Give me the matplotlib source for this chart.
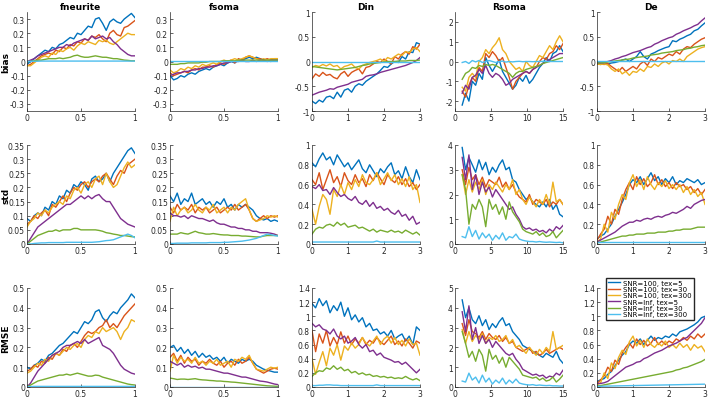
import numpy as np
import matplotlib.pyplot as plt

# sample grids for each parameter
x_f = np.linspace(0, 1, 31)
x_d = np.linspace(0, 3, 31)
x_r = np.linspace(1, 15, 31)

labels = ["SNR=100, tex=5", "SNR=100, tex=30", "SNR=100, tex=300",
          "SNR=Inf, tex=5", "SNR=Inf, tex=30", "SNR=Inf, tex=300"]
colors = ["#0072BD", "#D95319", "#EDB120", "#7E2F8E", "#77AC30", "#4DBEEE"]

params = ["fneurite", "fsoma", "Din", "Rsoma", "De"]
metrics = ["bias", "std", "RMSE"]

# ---- bias ----
bias_fneurite = [
    [-0.02, 0.0, 0.02, 0.04, 0.06, 0.08, 0.07, 0.10, 0.09, 0.12, 0.13, 0.15, 0.17, 0.16, 0.20, 0.19, 0.22, 0.25, 0.24, 0.30, 0.31, 0.27, 0.22, 0.28, 0.30, 0.28, 0.27, 0.30, 0.32, 0.34, 0.31],
    [-0.03, -0.02, 0.0, 0.02, 0.04, 0.05, 0.06, 0.05, 0.08, 0.07, 0.10, 0.09, 0.12, 0.11, 0.14, 0.13, 0.16, 0.15, 0.18, 0.17, 0.19, 0.16, 0.14, 0.20, 0.22, 0.19, 0.18, 0.24, 0.25, 0.27, 0.29],
    [-0.03, -0.03, -0.01, 0.01, 0.03, 0.04, 0.03, 0.06, 0.05, 0.08, 0.07, 0.09, 0.10, 0.08, 0.11, 0.13, 0.12, 0.14, 0.13, 0.12, 0.15, 0.14, 0.15, 0.13, 0.12, 0.14, 0.16, 0.18, 0.20, 0.19, 0.19],
    [0.0, 0.01, 0.02, 0.04, 0.05, 0.06, 0.07, 0.08, 0.09, 0.10, 0.10, 0.12, 0.11, 0.13, 0.14, 0.15, 0.16, 0.15, 0.18, 0.16, 0.17, 0.18, 0.16, 0.17, 0.14, 0.12, 0.09, 0.07, 0.05, 0.04, 0.04],
    [0.0, 0.0, 0.005, 0.01, 0.01, 0.015, 0.02, 0.02, 0.02, 0.025, 0.02, 0.025, 0.03, 0.04, 0.045, 0.035, 0.03, 0.03, 0.035, 0.04, 0.035, 0.03, 0.03, 0.025, 0.02, 0.02, 0.015, 0.01, 0.008, 0.005, 0.005],
    [0.0, 0.001, 0.002, 0.002, 0.003, 0.003, 0.003, 0.003, 0.003, 0.003, 0.003, 0.003, 0.003, 0.003, 0.003, 0.003, 0.003, 0.003, 0.003, 0.003, 0.003, 0.003, 0.003, 0.003, 0.003, 0.003, 0.003, 0.003, 0.003, 0.003, 0.003],
]
bias_fsoma = [
    [-0.10, -0.13, -0.12, -0.10, -0.11, -0.09, -0.08, -0.09, -0.07, -0.06, -0.05, -0.06, -0.04, -0.03, -0.02, -0.03, -0.01, 0.0, -0.01, 0.01, 0.01, 0.02, 0.03, 0.02, 0.03, 0.02, 0.01, 0.01, 0.0, 0.01, 0.01],
    [-0.08, -0.10, -0.09, -0.08, -0.07, -0.08, -0.06, -0.05, -0.06, -0.04, -0.04, -0.03, -0.04, -0.02, -0.01, -0.02, 0.0, 0.01, -0.01, 0.02, 0.01, 0.03, 0.04, 0.03, 0.02, 0.02, 0.01, 0.02, 0.01, 0.02, 0.02],
    [-0.06, -0.08, -0.07, -0.05, -0.06, -0.04, -0.05, -0.03, -0.04, -0.02, -0.03, -0.02, -0.01, -0.02, 0.0, 0.01, 0.0, 0.01, 0.02, 0.01, 0.02, 0.03, 0.04, 0.03, 0.02, 0.01, 0.02, 0.01, 0.02, 0.02, 0.02],
    [-0.10, -0.09, -0.08, -0.08, -0.07, -0.07, -0.06, -0.06, -0.05, -0.05, -0.04, -0.04, -0.03, -0.03, -0.02, -0.01, -0.01, 0.0, 0.0, 0.0, 0.01, 0.0, 0.0, 0.01, 0.0, 0.01, 0.01, 0.0, 0.01, 0.01, 0.01],
    [-0.02, -0.02, -0.02, -0.015, -0.015, -0.01, -0.01, -0.01, -0.01, -0.005, -0.005, 0.0, 0.0, 0.0, 0.0, 0.005, 0.005, 0.005, 0.005, 0.01, 0.01, 0.01, 0.01, 0.01, 0.01, 0.01, 0.01, 0.01, 0.01, 0.01, 0.01],
    [0.002, 0.002, 0.002, 0.002, 0.002, 0.002, 0.002, 0.002, 0.002, 0.002, 0.002, 0.002, 0.002, 0.002, 0.002, 0.002, 0.002, 0.002, 0.002, 0.002, 0.002, 0.002, 0.002, 0.002, 0.002, 0.002, 0.002, 0.002, 0.002, 0.002, 0.002],
]
bias_din = [
    [-0.80, -0.85, -0.78, -0.82, -0.72, -0.70, -0.75, -0.62, -0.72, -0.58, -0.55, -0.62, -0.50, -0.45, -0.48, -0.40, -0.35, -0.30, -0.25, -0.18, -0.10, -0.12, -0.05, 0.0, -0.02, 0.10, 0.05, 0.20, 0.18, 0.38, 0.35],
    [-0.35, -0.25, -0.30, -0.22, -0.28, -0.26, -0.32, -0.35, -0.25, -0.20, -0.30, -0.22, -0.18, -0.15, -0.25, -0.12, -0.10, -0.05, 0.0, -0.02, 0.05, 0.0, -0.05, 0.10, 0.05, 0.15, 0.20, 0.15, 0.30, 0.25, 0.35],
    [-0.12, -0.08, -0.10, -0.06, -0.09, -0.05, -0.10, -0.08, -0.15, -0.10, -0.08, -0.05, -0.12, -0.15, -0.08, -0.05, -0.02, 0.0, 0.02, 0.05, 0.0, 0.08, 0.05, 0.10, 0.15, 0.12, 0.20, 0.18, 0.25, 0.28, 0.20],
    [-0.68, -0.65, -0.62, -0.60, -0.58, -0.55, -0.56, -0.52, -0.50, -0.48, -0.46, -0.42, -0.40, -0.38, -0.36, -0.30, -0.28, -0.27, -0.25, -0.22, -0.20, -0.18, -0.16, -0.14, -0.12, -0.10, -0.08, -0.05, -0.02, 0.02, 0.08],
    [-0.10, -0.11, -0.12, -0.13, -0.14, -0.15, -0.16, -0.17, -0.16, -0.15, -0.14, -0.13, -0.12, -0.10, -0.08, -0.07, -0.05, -0.04, -0.03, -0.02, -0.01, 0.0, 0.0, 0.0, 0.01, 0.01, 0.01, 0.02, 0.02, 0.02, 0.03],
    [0.0, 0.0, 0.0, 0.0, 0.0, 0.0, 0.0, 0.0, 0.0, 0.0, 0.0, 0.0, 0.0, 0.0, 0.0, 0.0, 0.0, 0.0, 0.0, 0.0, 0.0, 0.0, 0.0, 0.0, 0.0, 0.0, 0.0, 0.0, 0.0, 0.0, 0.0],
]
bias_rsoma = [
    [-2.2, -1.6, -2.0, -1.0, -1.2, -0.6, -0.9, 0.2, -0.2, -0.5, -0.2, 0.1, -0.5, -0.8, -1.1, -1.4, -1.2, -0.8, -1.0, -0.7, -1.1, -0.9, -0.6, -0.3, -0.1, 0.2, 0.0, 0.4, 0.5, 0.8, 0.5],
    [-1.5, -1.8, -1.2, -0.8, -1.0, -0.3, -0.5, 0.4, 0.2, 0.5, 0.3, 0.0, 0.2, -0.3, -0.8, -1.4, -1.0, -0.8, -0.6, -0.5, -0.6, -0.4, -0.3, 0.0, 0.2, 0.1, 0.4, 0.5, 0.8, 0.6, 0.9],
    [-1.3, -1.5, -0.8, -0.6, -0.8, 0.0, 0.2, 0.6, 0.4, 0.7, 0.9, 1.2, 0.6, 0.4, 0.0, -0.2, -0.4, -0.3, -0.5, 0.0, -0.2, -0.3, 0.0, 0.3, 0.2, 0.5, 0.8, 0.6, 1.0, 1.3, 1.0],
    [-1.6, -1.2, -1.4, -0.8, -0.7, -0.4, -0.6, -0.2, -0.6, -0.8, -0.6, -0.7, -0.9, -1.2, -1.1, -0.9, -0.8, -0.7, -0.6, -0.5, -0.6, -0.4, -0.3, -0.2, -0.1, 0.0, 0.1, 0.2, 0.3, 0.4, 0.4],
    [-0.9, -0.6, -0.5, -0.3, -0.35, -0.2, -0.25, -0.15, -0.2, -0.15, -0.2, -0.3, -0.4, -0.5, -0.6, -0.8, -0.6, -0.5, -0.5, -0.4, -0.35, -0.3, -0.25, -0.2, -0.1, -0.05, 0.0, 0.05, 0.1, 0.15, 0.2],
    [-0.05, 0.0, -0.1, 0.05, -0.02, 0.05, -0.05, 0.0, 0.05, 0.0, -0.05, 0.0, 0.02, -0.03, 0.0, -0.02, 0.0, 0.01, -0.01, 0.0, 0.0, -0.01, 0.0, 0.0, 0.01, 0.0, 0.0, 0.0, 0.0, 0.0, 0.0],
]
bias_de = [
    [-0.05, -0.06, -0.04, -0.05, -0.03, -0.02, 0.0, 0.03, 0.05, 0.0, 0.05, 0.10, 0.20, 0.10, 0.05, 0.15, 0.18, 0.22, 0.25, 0.28, 0.30, 0.42, 0.40, 0.45, 0.48, 0.52, 0.55, 0.62, 0.65, 0.72, 0.78],
    [-0.05, -0.05, -0.06, -0.04, -0.10, -0.15, -0.20, -0.12, -0.20, -0.15, -0.10, -0.15, -0.05, 0.0, -0.08, 0.05, 0.0, 0.08, 0.05, 0.10, 0.15, 0.12, 0.20, 0.15, 0.25, 0.30, 0.28, 0.35, 0.40, 0.45, 0.48],
    [-0.05, -0.06, -0.05, -0.07, -0.15, -0.20, -0.15, -0.25, -0.20, -0.28, -0.20, -0.22, -0.15, -0.20, -0.10, -0.12, -0.05, -0.10, -0.03, 0.0, -0.05, 0.02, 0.0, 0.05, 0.0, 0.10, 0.15, 0.20, 0.25, 0.28, 0.30],
    [-0.03, -0.03, -0.02, 0.0, 0.02, 0.05, 0.07, 0.10, 0.12, 0.15, 0.18, 0.20, 0.22, 0.25, 0.28, 0.30, 0.35, 0.38, 0.42, 0.45, 0.48, 0.50, 0.55, 0.58, 0.62, 0.65, 0.68, 0.72, 0.75, 0.82, 0.88],
    [-0.03, -0.03, -0.02, -0.01, 0.0, 0.01, 0.02, 0.03, 0.04, 0.05, 0.07, 0.08, 0.09, 0.10, 0.11, 0.13, 0.14, 0.15, 0.17, 0.18, 0.19, 0.20, 0.22, 0.23, 0.24, 0.26, 0.27, 0.29, 0.30, 0.32, 0.33],
    [0.02, 0.02, 0.02, 0.02, 0.02, 0.02, 0.02, 0.02, 0.02, 0.02, 0.02, 0.02, 0.02, 0.02, 0.02, 0.02, 0.02, 0.02, 0.02, 0.02, 0.02, 0.02, 0.02, 0.02, 0.02, 0.02, 0.02, 0.02, 0.02, 0.02, 0.02],
]

# ---- std ----
std_fneurite = [
    [0.09, 0.08, 0.10, 0.11, 0.10, 0.13, 0.12, 0.15, 0.14, 0.17, 0.16, 0.19, 0.18, 0.21, 0.20, 0.22, 0.21, 0.19, 0.23, 0.24, 0.22, 0.23, 0.25, 0.22, 0.25, 0.27, 0.29, 0.31, 0.33, 0.34, 0.32],
    [0.07, 0.08, 0.10, 0.09, 0.11, 0.12, 0.10, 0.14, 0.13, 0.15, 0.17, 0.15, 0.18, 0.20, 0.19, 0.21, 0.22, 0.20, 0.22, 0.23, 0.22, 0.24, 0.25, 0.23, 0.21, 0.24, 0.26, 0.25, 0.28, 0.29, 0.30],
    [0.06, 0.08, 0.09, 0.11, 0.10, 0.12, 0.11, 0.13, 0.14, 0.15, 0.14, 0.17, 0.16, 0.19, 0.20, 0.18, 0.21, 0.22, 0.20, 0.23, 0.24, 0.21, 0.25, 0.22, 0.20, 0.21, 0.24, 0.27, 0.29, 0.27, 0.28],
    [0.0, 0.02, 0.04, 0.06, 0.07, 0.08, 0.09, 0.10, 0.11, 0.12, 0.13, 0.14, 0.14, 0.15, 0.16, 0.17, 0.16, 0.17, 0.16, 0.17, 0.175, 0.16, 0.15, 0.15, 0.13, 0.11, 0.09, 0.08, 0.07, 0.065, 0.06],
    [0.0, 0.01, 0.02, 0.03, 0.035, 0.04, 0.045, 0.045, 0.05, 0.045, 0.05, 0.05, 0.05, 0.055, 0.055, 0.05, 0.05, 0.05, 0.05, 0.05, 0.048, 0.045, 0.04, 0.038, 0.035, 0.033, 0.03, 0.03, 0.028, 0.026, 0.025],
    [0.0, 0.0, 0.002, 0.003, 0.004, 0.004, 0.005, 0.005, 0.005, 0.005, 0.005, 0.006, 0.006, 0.006, 0.006, 0.006, 0.006, 0.006, 0.006, 0.007, 0.008, 0.010, 0.012, 0.013, 0.015, 0.020, 0.025, 0.030, 0.035, 0.030, 0.022],
]
std_fsoma = [
    [0.17, 0.15, 0.18, 0.14, 0.16, 0.15, 0.18, 0.14, 0.15, 0.16, 0.14, 0.15, 0.13, 0.15, 0.14, 0.16, 0.13, 0.14, 0.12, 0.14, 0.13, 0.14, 0.13, 0.12, 0.10, 0.09, 0.085, 0.09, 0.08, 0.085, 0.08],
    [0.13, 0.11, 0.14, 0.12, 0.13, 0.12, 0.14, 0.11, 0.13, 0.12, 0.13, 0.11, 0.12, 0.13, 0.11, 0.12, 0.13, 0.12, 0.14, 0.12, 0.13, 0.14, 0.12, 0.09, 0.08, 0.09, 0.10, 0.09, 0.10, 0.095, 0.10],
    [0.08, 0.13, 0.10, 0.12, 0.13, 0.11, 0.12, 0.14, 0.12, 0.11, 0.13, 0.12, 0.14, 0.11, 0.12, 0.13, 0.11, 0.13, 0.12, 0.14, 0.15, 0.16, 0.12, 0.09, 0.08, 0.085, 0.09, 0.10, 0.095, 0.10, 0.095],
    [0.11, 0.10, 0.10, 0.095, 0.10, 0.09, 0.10, 0.095, 0.09, 0.09, 0.085, 0.08, 0.085, 0.075, 0.07, 0.07, 0.065, 0.06, 0.06, 0.055, 0.055, 0.05, 0.05, 0.045, 0.045, 0.04, 0.04, 0.04, 0.038, 0.035, 0.03],
    [0.035, 0.035, 0.035, 0.04, 0.037, 0.035, 0.04, 0.045, 0.04, 0.038, 0.035, 0.035, 0.037, 0.035, 0.033, 0.032, 0.032, 0.03, 0.03, 0.03, 0.028, 0.028, 0.027, 0.026, 0.025, 0.025, 0.028, 0.03, 0.03, 0.03, 0.03],
    [0.002, 0.002, 0.003, 0.003, 0.003, 0.003, 0.004, 0.004, 0.004, 0.004, 0.004, 0.005, 0.005, 0.005, 0.005, 0.006, 0.006, 0.007, 0.008, 0.009, 0.010, 0.012, 0.014, 0.017, 0.020, 0.025, 0.030, 0.035, 0.033, 0.030, 0.028],
]
std_din = [
    [0.82, 0.78, 0.86, 0.92, 0.85, 0.88, 0.80, 0.90, 0.84, 0.78, 0.82, 0.75, 0.80, 0.85, 0.76, 0.72, 0.80, 0.74, 0.68, 0.76, 0.72, 0.78, 0.82, 0.70, 0.74, 0.66, 0.78, 0.68, 0.62, 0.75, 0.65],
    [0.65, 0.60, 0.72, 0.55, 0.65, 0.75, 0.62, 0.68, 0.58, 0.72, 0.64, 0.60, 0.70, 0.62, 0.66, 0.58, 0.70, 0.64, 0.72, 0.66, 0.60, 0.70, 0.65, 0.62, 0.68, 0.60, 0.66, 0.58, 0.62, 0.55, 0.60],
    [0.35, 0.20, 0.38, 0.50, 0.45, 0.30, 0.55, 0.48, 0.60, 0.50, 0.62, 0.55, 0.65, 0.58, 0.70, 0.62, 0.60, 0.65, 0.72, 0.60, 0.66, 0.72, 0.64, 0.70, 0.60, 0.66, 0.58, 0.68, 0.55, 0.60, 0.42],
    [0.58, 0.56, 0.60, 0.54, 0.55, 0.50, 0.57, 0.52, 0.48, 0.50, 0.46, 0.44, 0.48, 0.42, 0.40, 0.44, 0.38, 0.42, 0.36, 0.38, 0.34, 0.36, 0.32, 0.30, 0.34, 0.28, 0.30, 0.24, 0.28, 0.20, 0.22],
    [0.10, 0.15, 0.17, 0.16, 0.19, 0.20, 0.18, 0.22, 0.19, 0.21, 0.17, 0.18, 0.19, 0.16, 0.17, 0.15, 0.13, 0.15, 0.12, 0.14, 0.13, 0.12, 0.14, 0.12, 0.13, 0.11, 0.14, 0.12, 0.10, 0.12, 0.09],
    [0.02, 0.02, 0.02, 0.02, 0.02, 0.02, 0.02, 0.02, 0.02, 0.02, 0.02, 0.02, 0.02, 0.02, 0.02, 0.02, 0.02, 0.02, 0.03, 0.02, 0.02, 0.02, 0.02, 0.02, 0.02, 0.02, 0.02, 0.02, 0.02, 0.02, 0.02],
]
std_rsoma = [
    [3.9, 3.0, 3.5, 3.2, 2.9, 3.4, 3.0, 3.3, 2.8, 3.1, 2.9, 3.2, 3.4, 3.0, 3.1, 2.6, 2.5, 2.2, 2.0, 1.8, 1.9, 1.7, 1.6, 1.5, 1.7, 1.5, 1.8, 1.4, 1.6, 1.2, 1.1],
    [3.0, 2.4, 3.1, 2.6, 2.8, 2.4, 2.7, 2.3, 2.6, 2.5, 2.4, 2.7, 2.3, 2.5, 2.2, 2.4, 2.1, 1.9, 1.8, 1.7, 2.0, 1.6, 1.8, 1.7, 1.6, 1.8, 1.5, 1.7, 1.6, 1.8, 1.6],
    [2.8, 2.0, 2.6, 2.1, 2.5, 2.2, 2.6, 2.0, 2.4, 2.2, 2.5, 2.3, 2.1, 2.4, 2.2, 2.6, 2.0, 2.2, 1.8, 1.6, 1.9, 1.7, 1.5, 1.8, 1.6, 2.0, 1.6, 2.5, 1.7, 1.8, 1.6],
    [3.5, 2.6, 3.6, 2.2, 2.8, 2.0, 2.5, 2.1, 2.3, 1.9, 2.2, 2.0, 1.8, 1.6, 1.4, 1.5, 1.2, 1.0, 0.7, 0.6, 0.65, 0.55, 0.6, 0.5, 0.55, 0.45, 0.6, 0.5, 0.7, 0.6, 0.75],
    [2.8, 2.2, 0.8, 1.6, 1.4, 1.8, 1.5, 0.7, 1.8, 1.4, 1.6, 1.2, 1.5, 1.0, 1.7, 1.3, 1.1, 0.9, 0.6, 0.5, 0.45, 0.4, 0.5, 0.35, 0.45, 0.3, 0.35, 0.5, 0.25, 0.4, 0.55],
    [0.3, 0.25, 0.7, 0.3, 0.55, 0.2, 0.45, 0.25, 0.4, 0.15, 0.35, 0.2, 0.45, 0.15, 0.3, 0.25, 0.4, 0.2, 0.15, 0.12, 0.1, 0.1, 0.08, 0.1, 0.08, 0.07, 0.08, 0.07, 0.06, 0.07, 0.05],
]
std_de = [
    [0.05, 0.08, 0.10, 0.15, 0.20, 0.28, 0.35, 0.42, 0.50, 0.60, 0.65, 0.62, 0.68, 0.60, 0.66, 0.72, 0.64, 0.68, 0.60, 0.66, 0.62, 0.68, 0.60, 0.64, 0.62, 0.66, 0.64, 0.62, 0.65, 0.60, 0.62],
    [0.04, 0.10, 0.15, 0.28, 0.20, 0.35, 0.30, 0.45, 0.55, 0.62, 0.55, 0.68, 0.60, 0.66, 0.58, 0.62, 0.70, 0.60, 0.65, 0.58, 0.62, 0.56, 0.62, 0.58, 0.60, 0.55, 0.58, 0.52, 0.56, 0.50, 0.55],
    [0.02, 0.05, 0.20, 0.12, 0.32, 0.25, 0.40, 0.50, 0.45, 0.62, 0.70, 0.58, 0.65, 0.55, 0.68, 0.60, 0.55, 0.62, 0.58, 0.64, 0.56, 0.60, 0.55, 0.60, 0.52, 0.58, 0.50, 0.55, 0.48, 0.52, 0.40],
    [0.02, 0.04, 0.06, 0.08, 0.10, 0.12, 0.15, 0.18, 0.20, 0.22, 0.22, 0.24, 0.23, 0.25, 0.26, 0.25, 0.27, 0.28, 0.27, 0.29, 0.30, 0.32, 0.31, 0.33, 0.35, 0.38, 0.36, 0.40, 0.42, 0.44, 0.45],
    [0.01, 0.02, 0.03, 0.04, 0.05, 0.06, 0.07, 0.08, 0.08, 0.09, 0.09, 0.10, 0.10, 0.10, 0.11, 0.11, 0.11, 0.12, 0.12, 0.12, 0.13, 0.13, 0.14, 0.14, 0.15, 0.15, 0.15, 0.16, 0.17, 0.17, 0.17],
    [0.02, 0.02, 0.02, 0.02, 0.02, 0.02, 0.02, 0.02, 0.02, 0.02, 0.02, 0.02, 0.02, 0.02, 0.02, 0.02, 0.02, 0.02, 0.02, 0.02, 0.02, 0.02, 0.02, 0.02, 0.02, 0.02, 0.02, 0.02, 0.02, 0.02, 0.02],
]

# ---- RMSE ----
rmse_fneurite = [
    [0.10, 0.09, 0.11, 0.12, 0.14, 0.13, 0.16, 0.17, 0.19, 0.21, 0.22, 0.24, 0.26, 0.28, 0.27, 0.30, 0.33, 0.32, 0.34, 0.38, 0.39, 0.35, 0.33, 0.36, 0.38, 0.37, 0.40, 0.42, 0.44, 0.47, 0.45],
    [0.08, 0.09, 0.11, 0.10, 0.13, 0.12, 0.15, 0.14, 0.17, 0.16, 0.19, 0.18, 0.21, 0.22, 0.20, 0.23, 0.26, 0.28, 0.27, 0.28, 0.30, 0.31, 0.34, 0.30, 0.32, 0.30, 0.33, 0.36, 0.38, 0.40, 0.42],
    [0.07, 0.08, 0.10, 0.12, 0.11, 0.14, 0.13, 0.16, 0.17, 0.16, 0.18, 0.20, 0.19, 0.21, 0.22, 0.20, 0.24, 0.26, 0.25, 0.28, 0.27, 0.30, 0.28, 0.29, 0.30, 0.28, 0.24, 0.28, 0.30, 0.34, 0.33],
    [0.0, 0.02, 0.05, 0.08, 0.10, 0.12, 0.14, 0.16, 0.17, 0.18, 0.20, 0.21, 0.21, 0.22, 0.23, 0.22, 0.24, 0.22, 0.23, 0.24, 0.25, 0.21, 0.20, 0.19, 0.17, 0.14, 0.11, 0.09, 0.08, 0.07, 0.065],
    [0.0, 0.01, 0.02, 0.03, 0.035, 0.04, 0.045, 0.05, 0.055, 0.06, 0.06, 0.065, 0.06, 0.065, 0.07, 0.065, 0.06, 0.055, 0.055, 0.06, 0.058, 0.05, 0.045, 0.04, 0.035, 0.03, 0.025, 0.02, 0.015, 0.012, 0.01],
    [0.002, 0.002, 0.003, 0.003, 0.003, 0.003, 0.003, 0.003, 0.003, 0.003, 0.003, 0.003, 0.003, 0.003, 0.003, 0.003, 0.003, 0.003, 0.003, 0.003, 0.003, 0.003, 0.003, 0.003, 0.003, 0.003, 0.003, 0.003, 0.003, 0.003, 0.003],
]
rmse_fsoma = [
    [0.20, 0.21, 0.18, 0.20, 0.17, 0.19, 0.16, 0.18, 0.15, 0.17, 0.15, 0.16, 0.14, 0.15, 0.13, 0.15, 0.12, 0.14, 0.13, 0.12, 0.14, 0.13, 0.14, 0.13, 0.11, 0.10, 0.09, 0.085, 0.08, 0.075, 0.075],
    [0.15, 0.17, 0.13, 0.16, 0.12, 0.15, 0.13, 0.14, 0.11, 0.13, 0.12, 0.14, 0.12, 0.11, 0.13, 0.10, 0.12, 0.13, 0.11, 0.14, 0.12, 0.13, 0.15, 0.12, 0.09, 0.08, 0.07, 0.08, 0.09, 0.095, 0.09],
    [0.08, 0.16, 0.12, 0.15, 0.13, 0.14, 0.12, 0.15, 0.12, 0.13, 0.11, 0.13, 0.12, 0.14, 0.11, 0.12, 0.13, 0.10, 0.14, 0.13, 0.15, 0.14, 0.16, 0.12, 0.09, 0.085, 0.08, 0.09, 0.10, 0.095, 0.10],
    [0.13, 0.12, 0.11, 0.12, 0.10, 0.11, 0.10, 0.105, 0.095, 0.10, 0.09, 0.09, 0.085, 0.08, 0.075, 0.07, 0.07, 0.065, 0.06, 0.055, 0.05, 0.05, 0.045, 0.04, 0.035, 0.03, 0.028, 0.025, 0.02, 0.015, 0.012],
    [0.045, 0.042, 0.038, 0.04, 0.04, 0.038, 0.04, 0.042, 0.038, 0.036, 0.035, 0.033, 0.032, 0.03, 0.03, 0.028, 0.027, 0.025, 0.024, 0.022, 0.02, 0.018, 0.016, 0.014, 0.012, 0.01, 0.008, 0.006, 0.005, 0.004, 0.003],
    [0.002, 0.002, 0.002, 0.002, 0.002, 0.002, 0.002, 0.002, 0.002, 0.002, 0.002, 0.002, 0.002, 0.002, 0.002, 0.002, 0.002, 0.002, 0.002, 0.002, 0.002, 0.002, 0.002, 0.002, 0.002, 0.002, 0.002, 0.002, 0.002, 0.002, 0.002],
]
rmse_din = [
    [1.18, 1.12, 1.25, 1.15, 1.22, 1.05, 1.15, 1.08, 1.20, 1.00, 1.12, 0.95, 1.02, 0.92, 0.98, 0.85, 0.90, 0.80, 0.82, 0.75, 0.78, 0.72, 0.80, 0.68, 0.72, 0.75, 0.65, 0.72, 0.60, 0.85, 0.80],
    [0.80, 0.50, 0.75, 0.62, 0.80, 0.58, 0.70, 0.60, 0.78, 0.62, 0.72, 0.60, 0.68, 0.62, 0.70, 0.60, 0.66, 0.62, 0.70, 0.64, 0.60, 0.66, 0.72, 0.60, 0.65, 0.58, 0.68, 0.62, 0.55, 0.65, 0.62],
    [0.40, 0.18, 0.35, 0.50, 0.30, 0.55, 0.45, 0.60, 0.38, 0.58, 0.52, 0.62, 0.55, 0.60, 0.70, 0.62, 0.58, 0.65, 0.72, 0.60, 0.68, 0.72, 0.62, 0.70, 0.60, 0.66, 0.58, 0.68, 0.60, 0.62, 0.45],
    [0.90, 0.85, 0.88, 0.82, 0.80, 0.75, 0.82, 0.72, 0.68, 0.72, 0.62, 0.65, 0.70, 0.60, 0.55, 0.60, 0.50, 0.52, 0.45, 0.48, 0.42, 0.40, 0.38, 0.35, 0.36, 0.32, 0.35, 0.30, 0.25, 0.20, 0.25],
    [0.15, 0.20, 0.23, 0.22, 0.27, 0.25, 0.30, 0.25, 0.28, 0.23, 0.25, 0.20, 0.22, 0.18, 0.20, 0.17, 0.18, 0.15, 0.16, 0.14, 0.15, 0.13, 0.14, 0.12, 0.13, 0.12, 0.15, 0.12, 0.10, 0.12, 0.09],
    [0.02, 0.02, 0.025, 0.025, 0.03, 0.03, 0.025, 0.025, 0.02, 0.02, 0.02, 0.02, 0.02, 0.02, 0.02, 0.02, 0.02, 0.02, 0.03, 0.02, 0.02, 0.02, 0.02, 0.02, 0.02, 0.02, 0.02, 0.02, 0.02, 0.02, 0.02],
]
rmse_rsoma = [
    [4.4, 3.5, 4.0, 3.4, 3.2, 3.6, 3.1, 3.4, 2.9, 3.2, 3.0, 3.3, 3.5, 3.1, 3.2, 2.8, 2.6, 2.4, 2.1, 2.0, 1.9, 1.8, 1.7, 1.6, 1.5, 1.7, 1.6, 1.5, 1.8, 1.4, 1.2],
    [3.2, 2.6, 3.4, 2.8, 2.7, 2.5, 2.8, 2.4, 2.7, 2.5, 2.4, 2.6, 2.3, 2.5, 2.2, 2.3, 2.0, 1.9, 1.8, 1.9, 2.0, 1.7, 1.8, 1.6, 1.7, 1.9, 1.7, 1.8, 1.9, 2.0, 1.9],
    [2.9, 2.2, 2.8, 2.3, 2.6, 2.4, 2.7, 2.2, 2.5, 2.4, 2.6, 2.3, 2.4, 2.6, 2.2, 2.4, 2.0, 2.1, 1.9, 1.7, 2.0, 1.8, 1.6, 1.9, 1.7, 2.0, 1.8, 2.8, 1.9, 2.0, 2.1],
    [3.8, 2.8, 4.1, 2.4, 3.0, 2.2, 2.6, 2.2, 2.4, 2.0, 2.3, 2.1, 1.9, 1.7, 1.6, 1.7, 1.4, 1.2, 0.9, 0.8, 0.7, 0.6, 0.65, 0.55, 0.6, 0.45, 0.55, 0.5, 0.7, 0.6, 0.85],
    [2.8, 2.2, 1.5, 1.8, 1.3, 1.9, 1.6, 0.8, 1.9, 1.4, 1.6, 1.2, 1.5, 1.0, 1.5, 1.3, 1.1, 0.9, 0.6, 0.55, 0.5, 0.45, 0.5, 0.35, 0.45, 0.3, 0.35, 0.5, 0.25, 0.4, 0.6],
    [0.3, 0.25, 0.7, 0.35, 0.5, 0.2, 0.6, 0.25, 0.45, 0.15, 0.35, 0.2, 0.45, 0.15, 0.35, 0.2, 0.4, 0.2, 0.15, 0.12, 0.1, 0.12, 0.08, 0.1, 0.08, 0.07, 0.08, 0.06, 0.06, 0.05, 0.05],
]
rmse_de = [
    [0.08, 0.10, 0.12, 0.18, 0.22, 0.30, 0.38, 0.45, 0.50, 0.60, 0.65, 0.62, 0.68, 0.60, 0.66, 0.72, 0.66, 0.70, 0.68, 0.72, 0.70, 0.75, 0.72, 0.78, 0.80, 0.82, 0.85, 0.88, 0.92, 0.98, 1.00],
    [0.05, 0.10, 0.16, 0.28, 0.22, 0.38, 0.32, 0.48, 0.56, 0.62, 0.55, 0.68, 0.60, 0.66, 0.58, 0.62, 0.70, 0.60, 0.65, 0.60, 0.65, 0.62, 0.68, 0.65, 0.70, 0.66, 0.72, 0.68, 0.75, 0.70, 0.75],
    [0.03, 0.06, 0.20, 0.12, 0.34, 0.26, 0.42, 0.52, 0.46, 0.64, 0.72, 0.58, 0.66, 0.56, 0.68, 0.60, 0.56, 0.62, 0.58, 0.65, 0.56, 0.60, 0.55, 0.62, 0.56, 0.60, 0.52, 0.60, 0.55, 0.58, 0.50],
    [0.05, 0.05, 0.06, 0.08, 0.12, 0.16, 0.20, 0.24, 0.28, 0.30, 0.32, 0.35, 0.36, 0.40, 0.42, 0.45, 0.48, 0.50, 0.52, 0.55, 0.58, 0.60, 0.62, 0.65, 0.68, 0.70, 0.75, 0.80, 0.85, 0.90, 0.98],
    [0.02, 0.02, 0.03, 0.04, 0.05, 0.06, 0.07, 0.08, 0.09, 0.10, 0.11, 0.12, 0.13, 0.14, 0.15, 0.16, 0.17, 0.18, 0.19, 0.20, 0.21, 0.22, 0.24, 0.25, 0.27, 0.28, 0.30, 0.32, 0.34, 0.36, 0.39],
    [0.01, 0.01, 0.012, 0.013, 0.014, 0.015, 0.016, 0.017, 0.018, 0.019, 0.02, 0.021, 0.022, 0.023, 0.024, 0.025, 0.026, 0.027, 0.028, 0.029, 0.03, 0.031, 0.032, 0.033, 0.034, 0.035, 0.036, 0.037, 0.038, 0.039, 0.04],
]

data = [
    [bias_fneurite, bias_fsoma, bias_din, bias_rsoma, bias_de],
    [std_fneurite, std_fsoma, std_din, std_rsoma, std_de],
    [rmse_fneurite, rmse_fsoma, rmse_din, rmse_rsoma, rmse_de],
]
xs = [x_f, x_f, x_d, x_r, x_d]
xlims = [(0, 1), (0, 1), (0, 3), (0, 15), (0, 3)]
xticks = [[0, 0.5, 1], [0, 0.5, 1], [0, 1, 2, 3], [0, 5, 10, 15], [0, 1, 2, 3]]

ylims = [
    [(-0.35, 0.35), (-0.35, 0.35), (-1, 1), (-2.5, 2.5), (-1, 1)],
    [(0, 0.35), (0, 0.35), (0, 1), (0, 4), (0, 1)],
    [(0, 0.5), (0, 0.5), (0, 1.4), (0, 5), (0, 1.4)],
]
yticks = [
    [np.arange(-0.3, 0.31, 0.1), np.arange(-0.3, 0.31, 0.1), [-1, -0.5, 0, 0.5, 1], [-2, -1, 0, 1, 2], [-1, -0.5, 0, 0.5, 1]],
    [np.arange(0, 0.351, 0.05), np.arange(0, 0.351, 0.05), np.arange(0, 1.01, 0.2), [0, 1, 2, 3, 4], np.arange(0, 1.01, 0.2)],
    [np.arange(0, 0.51, 0.1), np.arange(0, 0.51, 0.1), np.arange(0, 1.41, 0.2), [0, 1, 2, 3, 4, 5], np.arange(0, 1.41, 0.2)],
]

fig = plt.figure(figsize=(7.09, 4.02), dpi=100)
lefts = [27, 170, 312, 455, 597]
tops = [13, 146, 289]
w_px, h_px = 108, 99

for i in range(3):
    for j in range(5):
        ax = fig.add_axes([lefts[j] / 709, 1 - (tops[i] + h_px) / 402, w_px / 709, h_px / 402])
        for k in range(6):
            ax.plot(xs[j], data[i][j][k], color=colors[k], linewidth=1.0, label=labels[k])
        ax.set_xlim(xlims[j])
        ax.set_ylim(ylims[i][j])
        ax.set_xticks(xticks[j])
        ax.set_yticks(yticks[i][j])
        ax.set_yticklabels(["%g" % round(v, 2) for v in yticks[i][j]])
        ax.set_xticklabels(["%g" % v for v in xticks[j]])
        ax.tick_params(labelsize=5.5, direction="in", length=2, width=0.5, pad=1.5, colors="#262626")
        for s in ["top", "right"]:
            ax.spines[s].set_visible(False)
        for s in ["left", "bottom"]:
            ax.spines[s].set_linewidth(0.5)
            ax.spines[s].set_color("#262626")
        if i == 0:
            ax.set_title(params[j], fontsize=6.5, fontweight="bold", pad=2)
        if j == 0:
            ax.set_ylabel(metrics[i], fontsize=6.5, fontweight="bold")
            ax.yaxis.set_label_coords(-0.155, 0.5)
        if i == 2 and j == 4:
            ax.legend(loc="upper left", bbox_to_anchor=(0.05, 1.14), fontsize=5,
                      labelspacing=0.05, handlelength=1.8, handletextpad=0.4, borderpad=0.3,
                      fancybox=False, edgecolor="#262626", framealpha=1)

fig.savefig("out.png", dpi=100)
